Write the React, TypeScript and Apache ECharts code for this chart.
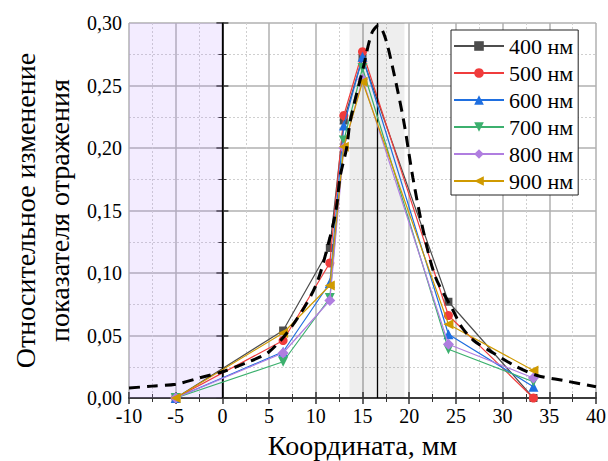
import React, { useEffect, useRef } from "react";
import * as echarts from "echarts";

const xPositions = [-5, 6.5, 11.5, 13, 15, 24.2, 33.3];
const s400 = [0, 0.054, 0.12, 0.222, 0.272, 0.077, 0.0];
const s500 = [0, 0.046, 0.108, 0.226, 0.277, 0.066, 0.0];
const s600 = [0, 0.037, 0.092, 0.218, 0.273, 0.051, 0.009];
const s700 = [0, 0.029, 0.08, 0.206, 0.264, 0.039, 0.013];
const s800 = [0, 0.036, 0.078, 0.2, 0.255, 0.043, 0.016];
const s900 = [0, 0.052, 0.09, 0.201, 0.253, 0.059, 0.022];

const seriesNames = ["400 нм", "500 нм", "600 нм", "700 нм", "800 нм", "900 нм"];
const seriesValues = [s400, s500, s600, s700, s800, s900];
const seriesColors = ["#4d4d4d", "#f03c3c", "#1f6fe0", "#3cb06e", "#b07ee0", "#d09a00"];
const seriesSymbols = ["rect", "circle", "triangle", "triangle", "diamond", "triangle"];
const seriesRotate = [0, 0, 0, 180, 0, 90];
const seriesSizes = [8, 9, 10, 10, 11, 10];

const curveX = [-10, -7.5, -5, -2.5, 0, 2.5, 5, 7.5, 10, 11.5, 12.2, 12.6, 13.3, 13.7, 15.1, 16, 16.7, 17.4, 18.3, 19.4, 20.4, 21.5, 22.8, 24.7, 25.6, 26.9, 29, 31.5, 33.7, 36.5, 40];
const curveY = [0.008, 0.0095, 0.011, 0.016, 0.021, 0.028, 0.037, 0.058, 0.09, 0.128, 0.152, 0.177, 0.2, 0.222, 0.265, 0.292, 0.298, 0.289, 0.262, 0.222, 0.176, 0.134, 0.097, 0.07, 0.057, 0.046, 0.036, 0.025, 0.018, 0.014, 0.009];

const leftBand = [-10, 0];
const centerBand = [13.6, 19.5];
const vLines = [0, 16.55];

const FONT = "Liberation Serif";

export default function App() {
  const ref = useRef<HTMLDivElement>(null);
  useEffect(() => {
    if (!ref.current) return;
    const chart = echarts.init(ref.current, null, { renderer: "svg" });
    const axisLine = { show: true, lineStyle: { color: "#333", width: 1.5 } };
    const tick = { show: true, inside: true, length: 6, lineStyle: { color: "#333", width: 1.5 } };
    const minorTick = { show: true, splitNumber: 2, length: 4, lineStyle: { color: "#333", width: 1 } };
    const split = { show: true, lineStyle: { color: "#b0b0b0", width: 1.5 } };
    const minorSplit = { show: true, lineStyle: { color: "#cfcfcf", width: 1, type: [2, 2] } };

    const lineSeries = seriesNames.map((name, i) => ({
      name,
      type: "line",
      data: xPositions.map((x, j) => [x, seriesValues[i][j]]),
      symbol: seriesSymbols[i],
      symbolSize: seriesSizes[i],
      symbolRotate: seriesRotate[i],
      lineStyle: { color: seriesColors[i], width: 1.2 },
      itemStyle: { color: seriesColors[i] },
      z: 3 + i,
    }));

    chart.setOption({
      animation: false,
      textStyle: { fontFamily: FONT },
      grid: { left: 129, right: 12, top: 23, bottom: 63, outerBoundsMode: "none", containLabel: false },
      legend: {
        data: seriesNames,
        orient: "vertical",
        left: 451,
        top: 30,
        itemWidth: 50,
        itemHeight: 12,
        itemGap: 5,
        padding: [5, 5, 3, 2],
        backgroundColor: "#fff",
        borderColor: "#222",
        borderWidth: 1,
        textStyle: { fontFamily: FONT, fontSize: 22, color: "#000", lineHeight: 22 },
      },
      xAxis: [
        {
          type: "value",
          min: -10,
          max: 40,
          interval: 5,
          position: "bottom",
          name: "Координата, мм",
          nameLocation: "middle",
          nameGap: 31,
          nameTextStyle: { fontFamily: FONT, fontSize: 28, color: "#000", lineHeight: 30 },
          axisLine,
          axisTick: tick,
          minorTick,
          splitLine: split,
          minorSplitLine: minorSplit,
          axisLabel: { fontFamily: FONT, fontSize: 20, color: "#000", margin: 8 },
        },
        {
          type: "value",
          min: -10,
          max: 40,
          interval: 5,
          position: "top",
          axisLine,
          axisTick: tick,
          minorTick,
          splitLine: { show: false },
          axisLabel: { show: false },
        },
      ],
      yAxis: [
        {
          type: "value",
          min: 0,
          max: 0.3,
          interval: 0.05,
          position: "left",
          name: "Относительное изменение\nпоказателя отражения",
          nameLocation: "middle",
          nameGap: 50,
          nameTextStyle: { fontFamily: FONT, fontSize: 28, color: "#000", lineHeight: 34 },
          axisLine,
          axisTick: tick,
          minorTick,
          splitLine: split,
          minorSplitLine: minorSplit,
          axisLabel: {
            fontFamily: FONT,
            fontSize: 20,
            color: "#000",
            margin: 7,
            formatter: (v: number) => v.toFixed(2).replace(".", ","),
          },
        },
        {
          type: "value",
          min: 0,
          max: 0.3,
          interval: 0.05,
          position: "right",
          axisLine,
          axisTick: tick,
          minorTick,
          splitLine: { show: false },
          axisLabel: { show: false },
        },
      ],
      series: [
        {
          name: "bands",
          type: "line",
          data: [],
          silent: true,
          markArea: {
            silent: true,
            data: [
              [
                { xAxis: leftBand[0], itemStyle: { color: "rgba(190,150,255,0.18)" } },
                { xAxis: leftBand[1] },
              ],
              [
                { xAxis: centerBand[0], itemStyle: { color: "rgba(0,0,0,0.065)" } },
                { xAxis: centerBand[1] },
              ],
            ],
          },
          markLine: {
            silent: true,
            symbol: "none",
            label: { show: false },
            lineStyle: { color: "#000", width: 1.3, type: "solid" },
            data: vLines.map((v) => ({ xAxis: v })),
          },
          z: 1,
        },
        ...lineSeries,
        {
          name: "curve",
          type: "line",
          data: curveX.map((x, j) => [x, curveY[j]]),
          smooth: 0.3,
          symbol: "none",
          lineStyle: { color: "#000", width: 3, type: [11, 7] },
          z: 10,
        },
      ],
    });
    return () => chart.dispose();
  }, []);
  return (
    <div
      ref={ref}
      style={{ position: "fixed", left: 0, top: 0, width: 608, height: 461, background: "#fff" }}
    />
  );
}
